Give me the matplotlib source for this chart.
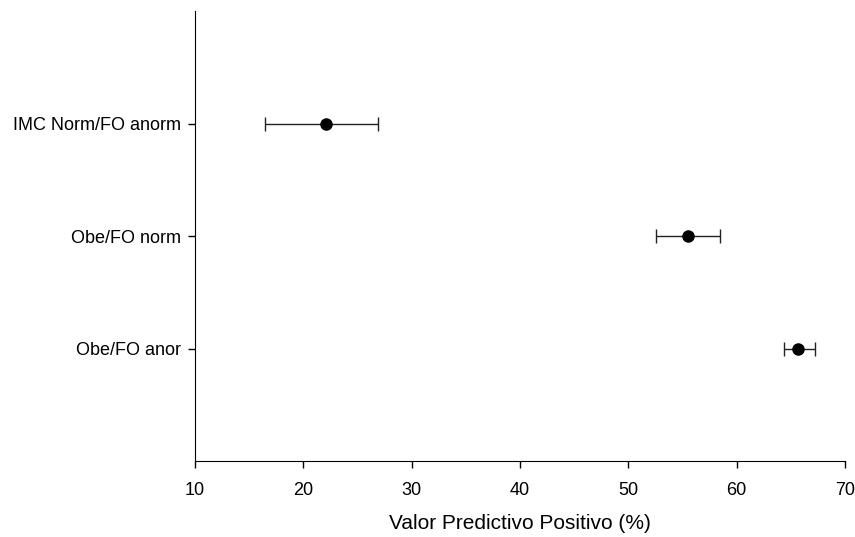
import matplotlib
matplotlib.use("Agg")
import matplotlib.pyplot as plt

categories = ["IMC Norm/FO anorm", "Obe/FO norm", "Obe/FO anor"]
values = [22.1, 55.5, 65.7]
lower = [16.45, 52.6, 64.4]
upper = [26.9, 58.45, 67.2]
xticks = [10, 20, 30, 40, 50, 60, 70]

plt.rcParams['font.family'] = ['Liberation Sans', 'DejaVu Sans']

fig = plt.figure(figsize=(8.55, 5.37), dpi=100)
ax = fig.add_axes([0.228, 0.1415, 0.7603, 0.838])

ypos = [3, 2, 1]
xerr = [[v - l for v, l in zip(values, lower)], [u - v for v, u in zip(values, upper)]]
ax.errorbar(values, ypos, xerr=xerr, fmt='o', color='black', ecolor='#222222',
            elinewidth=1, capsize=5, capthick=1, markersize=8)

ax.set_xlim(10, 70)
ax.set_ylim(0, 4)
ax.set_xticks(xticks)
ax.set_xticklabels([str(t) for t in xticks], fontsize=13)
ax.set_yticks(ypos)
ax.set_yticklabels(categories, fontsize=13)
ax.tick_params(axis='y', direction='out', length=5, width=1, pad=5)
ax.tick_params(axis='x', direction='out', length=5, width=1, pad=10)
ax.spines['top'].set_visible(False)
ax.spines['right'].set_visible(False)
ax.set_xlabel("Valor Predictivo Positivo (%)", fontsize=15, labelpad=11)

fig.savefig("out.png", dpi=100)
